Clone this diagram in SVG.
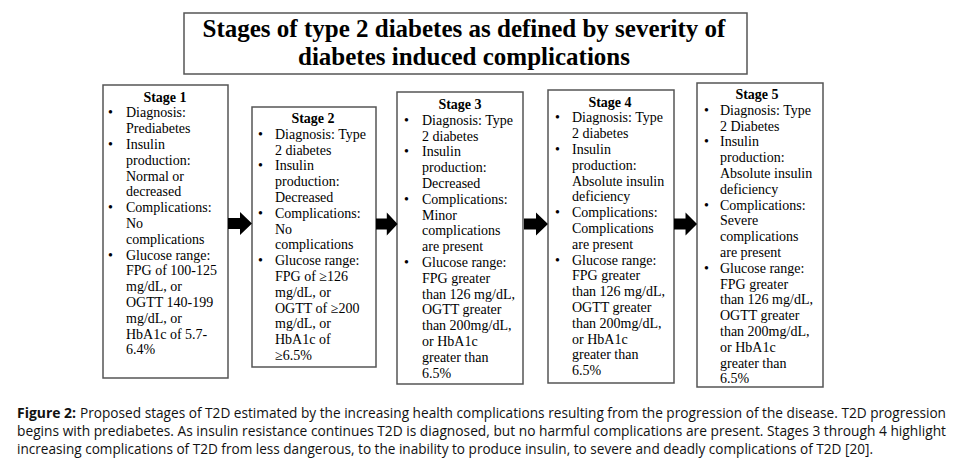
<svg xmlns="http://www.w3.org/2000/svg" width="960" height="466" viewBox="0 0 960 466">
<style>
.box{fill:#fff;stroke:#555;stroke-width:1.5}
.t{font-family:"Liberation Serif","Times New Roman",serif;font-size:14px;fill:#000}
.h{font-family:"Liberation Serif","Times New Roman",serif;font-size:14px;font-weight:bold;fill:#000;text-anchor:middle}
.title{font-family:"Liberation Serif","Times New Roman",serif;font-size:25px;font-weight:bold;fill:#000;text-anchor:middle}
.cap{font-family:"Open Sans","Liberation Sans",sans-serif;font-size:14.5px;fill:#111}
.arrow{fill:#000}
</style>
<defs>
<path id="blk" d="M0,-5.5 L12,-5.5 L12,-11.5 L24,0 L12,11.5 L12,5.5 L0,5.5 Z"/>
</defs>
<rect width="960" height="466" fill="#fff"/>

<g id="title">
<rect class="box" x="184" y="13" width="563" height="61"/>
<text class="title" x="464" y="37">Stages of type 2 diabetes as defined by severity of</text>
<text class="title" x="464" y="65">diabetes induced complications</text>
</g>

<g id="stage1">
<rect class="box" x="103" y="85" width="125" height="293"/>
<text class="h" x="165" y="101.5">Stage 1</text>
<text class="t">
<tspan x="108" y="117.3">•</tspan><tspan x="126" y="117.3">Diagnosis:</tspan>
<tspan x="126" y="133.1">Prediabetes</tspan>
<tspan x="108" y="148.9">•</tspan><tspan x="126" y="148.9">Insulin</tspan>
<tspan x="126" y="164.7">production:</tspan>
<tspan x="126" y="180.5">Normal or</tspan>
<tspan x="126" y="196.3">decreased</tspan>
<tspan x="108" y="212.1">•</tspan><tspan x="126" y="212.1">Complications:</tspan>
<tspan x="126" y="227.9">No</tspan>
<tspan x="126" y="243.7">complications</tspan>
<tspan x="108" y="259.5">•</tspan><tspan x="126" y="259.5">Glucose range:</tspan>
<tspan x="126" y="275.3">FPG of 100-125</tspan>
<tspan x="126" y="291.1">mg/dL, or</tspan>
<tspan x="126" y="306.9">OGTT 140-199</tspan>
<tspan x="126" y="322.7">mg/dL, or</tspan>
<tspan x="126" y="338.5">HbA1c of 5.7-</tspan>
<tspan x="126" y="354.3">6.4%</tspan>
</text>
</g>

<g id="stage2">
<rect class="box" x="252" y="107" width="124" height="260"/>
<text class="h" x="313" y="123">Stage 2</text>
<text class="t">
<tspan x="258" y="138.8">•</tspan><tspan x="275" y="138.8">Diagnosis: Type</tspan>
<tspan x="275" y="154.6">2 diabetes</tspan>
<tspan x="258" y="170.4">•</tspan><tspan x="275" y="170.4">Insulin</tspan>
<tspan x="275" y="186.2">production:</tspan>
<tspan x="275" y="202">Decreased</tspan>
<tspan x="258" y="217.8">•</tspan><tspan x="275" y="217.8">Complications:</tspan>
<tspan x="275" y="233.6">No</tspan>
<tspan x="275" y="249.4">complications</tspan>
<tspan x="258" y="265.2">•</tspan><tspan x="275" y="265.2">Glucose range:</tspan>
<tspan x="275" y="281">FPG of  ≥126</tspan>
<tspan x="275" y="296.8">mg/dL, or</tspan>
<tspan x="275" y="312.6">OGTT of  ≥200</tspan>
<tspan x="275" y="328.4">mg/dL, or</tspan>
<tspan x="275" y="344.2">HbA1c of</tspan>
<tspan x="275" y="360">≥6.5%</tspan>
</text>
</g>

<g id="stage3">
<rect class="box" x="397" y="92" width="126" height="292"/>
<text class="h" x="460" y="109">Stage 3</text>
<text class="t">
<tspan x="404" y="124.8">•</tspan><tspan x="422" y="124.8">Diagnosis: Type</tspan>
<tspan x="422" y="140.6">2 diabetes</tspan>
<tspan x="404" y="156.4">•</tspan><tspan x="422" y="156.4">Insulin</tspan>
<tspan x="422" y="172.2">production:</tspan>
<tspan x="422" y="188">Decreased</tspan>
<tspan x="404" y="203.8">•</tspan><tspan x="422" y="203.8">Complications:</tspan>
<tspan x="422" y="219.6">Minor</tspan>
<tspan x="422" y="235.4">complications</tspan>
<tspan x="422" y="251.2">are present</tspan>
<tspan x="404" y="267">•</tspan><tspan x="422" y="267">Glucose range:</tspan>
<tspan x="422" y="282.8">FPG greater</tspan>
<tspan x="422" y="298.6">than 126 mg/dL,</tspan>
<tspan x="422" y="314.4">OGTT greater</tspan>
<tspan x="422" y="330.2">than 200mg/dL,</tspan>
<tspan x="422" y="346">or HbA1c</tspan>
<tspan x="422" y="361.8">greater than</tspan>
<tspan x="422" y="377.6">6.5%</tspan>
</text>
</g>

<g id="stage4">
<rect class="box" x="548" y="90" width="126" height="293"/>
<text class="h" x="610" y="106.5">Stage 4</text>
<text class="t">
<tspan x="555" y="122.3">•</tspan><tspan x="572" y="122.3">Diagnosis: Type</tspan>
<tspan x="572" y="138.1">2 diabetes</tspan>
<tspan x="555" y="153.9">•</tspan><tspan x="572" y="153.9">Insulin</tspan>
<tspan x="572" y="169.7">production:</tspan>
<tspan x="572" y="185.5">Absolute insulin</tspan>
<tspan x="572" y="201.3">deficiency</tspan>
<tspan x="555" y="217.1">•</tspan><tspan x="572" y="217.1">Complications:</tspan>
<tspan x="572" y="232.9">Complications</tspan>
<tspan x="572" y="248.7">are present</tspan>
<tspan x="555" y="264.5">•</tspan><tspan x="572" y="264.5">Glucose range:</tspan>
<tspan x="572" y="280.3">FPG greater</tspan>
<tspan x="572" y="296.1">than 126 mg/dL,</tspan>
<tspan x="572" y="311.9">OGTT greater</tspan>
<tspan x="572" y="327.7">than 200mg/dL,</tspan>
<tspan x="572" y="343.5">or HbA1c</tspan>
<tspan x="572" y="359.3">greater than</tspan>
<tspan x="572" y="375.1">6.5%</tspan>
</text>
</g>

<g id="stage5">
<rect class="box" x="697" y="83" width="126" height="304"/>
<text class="h" x="757" y="99">Stage 5</text>
<text class="t">
<tspan x="704" y="114.8">•</tspan><tspan x="720" y="114.8">Diagnosis: Type</tspan>
<tspan x="720" y="130.6">2 Diabetes</tspan>
<tspan x="704" y="146.4">•</tspan><tspan x="720" y="146.4">Insulin</tspan>
<tspan x="720" y="162.2">production:</tspan>
<tspan x="720" y="178">Absolute insulin</tspan>
<tspan x="720" y="193.8">deficiency</tspan>
<tspan x="704" y="209.6">•</tspan><tspan x="720" y="209.6">Complications:</tspan>
<tspan x="720" y="225.4">Severe</tspan>
<tspan x="720" y="241.2">complications</tspan>
<tspan x="720" y="257">are present</tspan>
<tspan x="704" y="272.8">•</tspan><tspan x="720" y="272.8">Glucose range:</tspan>
<tspan x="720" y="288.6">FPG greater</tspan>
<tspan x="720" y="304.4">than 126 mg/dL,</tspan>
<tspan x="720" y="320.2">OGTT greater</tspan>
<tspan x="720" y="336">than 200mg/dL,</tspan>
<tspan x="720" y="351.8">or HbA1c</tspan>
<tspan x="720" y="367.6">greater than</tspan>
<tspan x="720" y="383.4">6.5%</tspan>
</text>
</g>

<g id="connectors" class="arrow">
<use href="#blk" transform="translate(228,223.5)"/>
<use href="#blk" transform="translate(376,224) scale(0.9,1)"/>
<use href="#blk" transform="translate(524,224)"/>
<use href="#blk" transform="translate(674,224) scale(0.96,1)"/>
</g>

<g id="caption">
<text class="cap" x="17" y="418" font-weight="bold" textLength="59" lengthAdjust="spacingAndGlyphs">Figure 2:</text>
<text class="cap" transform="translate(80,418) scale(0.8,1)" x="0" y="0" textLength="1082.5" lengthAdjust="spacingAndGlyphs">Proposed stages of T2D estimated by the increasing health complications resulting from the progression of the disease. T2D progression</text>
<text class="cap" transform="translate(17,436) scale(0.8,1)" x="0" y="0" textLength="1161.25" lengthAdjust="spacingAndGlyphs">begins with prediabetes. As insulin resistance continues T2D is diagnosed, but no harmful complications are present. Stages 3 through 4 highlight</text>
<text class="cap" transform="translate(17,454) scale(0.8,1)" x="0" y="0" textLength="1070" lengthAdjust="spacingAndGlyphs">increasing complications of T2D from less dangerous, to the inability to produce insulin, to severe and deadly complications of T2D [20].</text>
</g>
</svg>
